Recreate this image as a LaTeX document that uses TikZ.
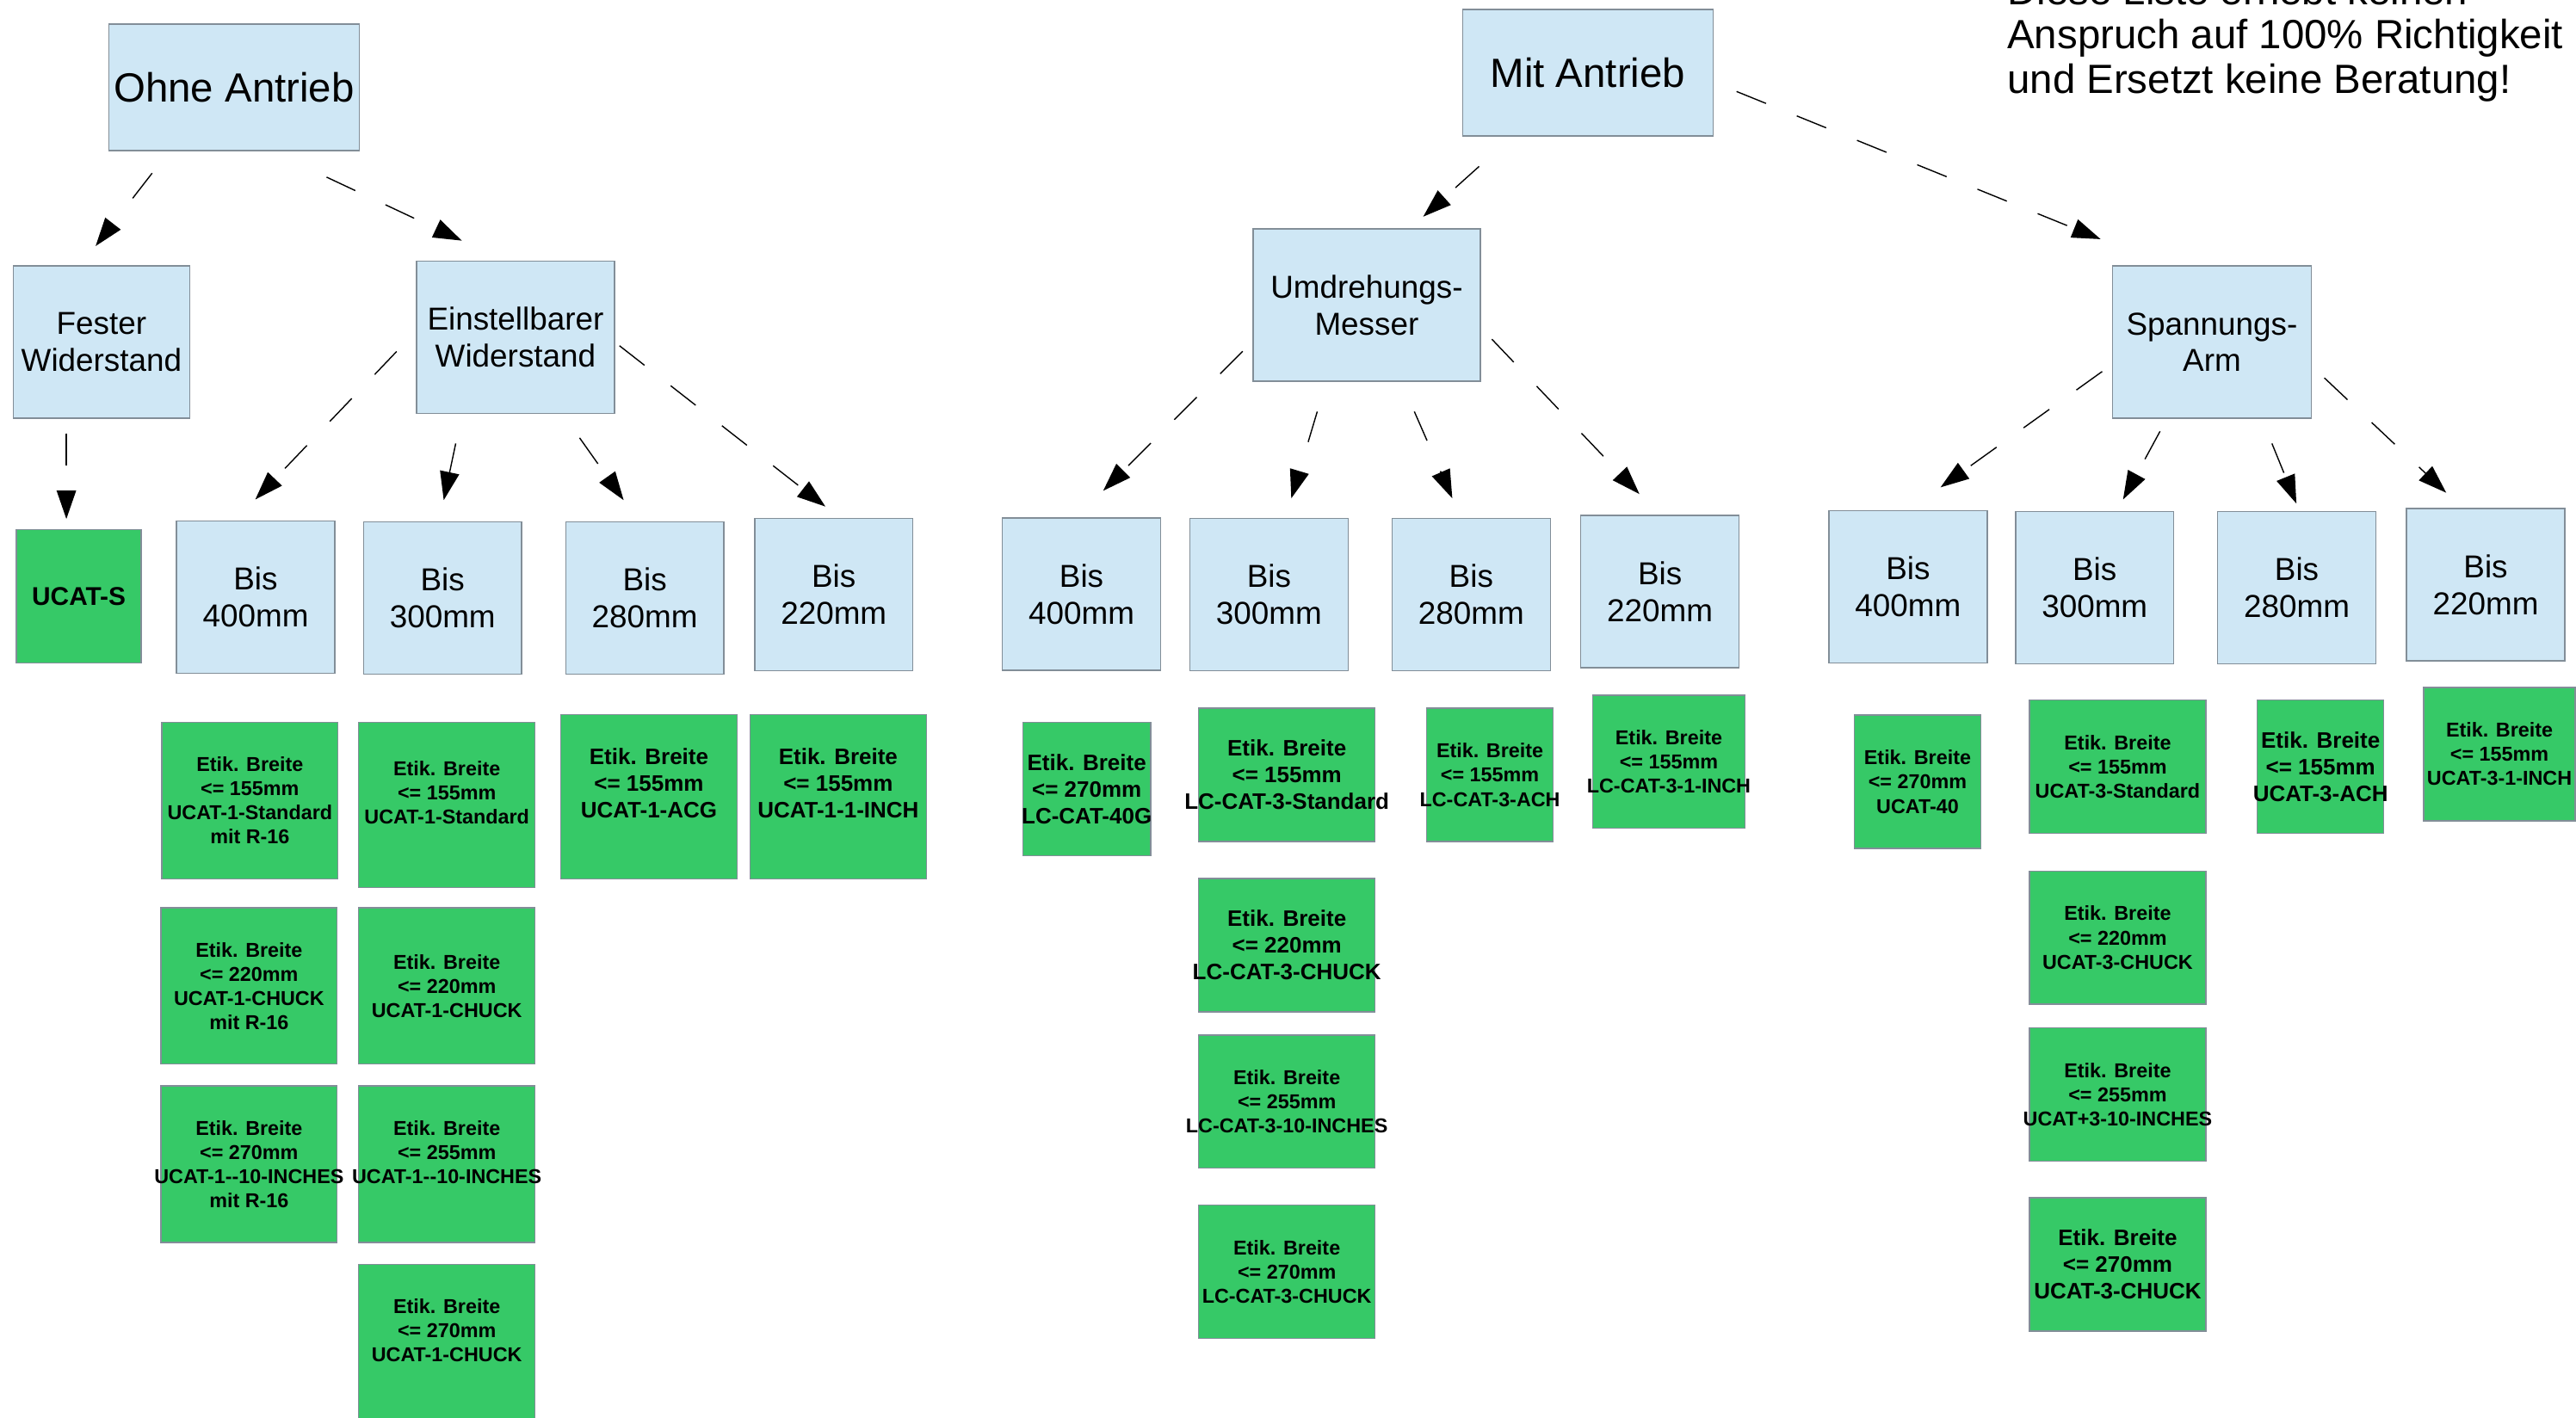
\documentclass[tikz,border=0pt]{standalone}
\usepackage{fontspec}
\setmainfont{Liberation Sans}
\usetikzlibrary{arrows.meta,calc}

\definecolor{sky}{RGB}{207,231,245}
\definecolor{leaf}{RGB}{54,201,103}
\definecolor{edge}{RGB}{130,142,152}

\tikzset{
  cat/.style={draw=edge, fill=sky, align=center, inner sep=0pt, line width=0.4pt,
    font=\fontsize{10.5}{12.2}\selectfont},
  head/.style={cat, minimum width=2.91cm, minimum height=1.47cm,
    font=\fontsize{13.5}{14.7}\selectfont},
  bis/.style={cat, minimum width=1.84cm, minimum height=1.77cm},
  prod/.style={draw=edge, fill=leaf, align=center, inner xsep=-8pt, inner ysep=0pt,
    line width=0.4pt, minimum height=1.55cm, font=\bfseries\fontsize{6.65}{8}\selectfont},
  prodL/.style={prod, font=\bfseries\fontsize{7.4}{8.8}\selectfont},
  wide/.style={minimum width=2.05cm},
  slim/.style={minimum width=1.47cm},
  link/.style={line width=0.4pt, dash pattern=on 10.5pt off 11pt,
    -{Triangle[length=9.4pt,width=6.4pt]}}
}

\begin{document}
\begin{tikzpicture}[x=0.0191cm, y=-0.0191cm]
    \useasboundingbox (0,0) rectangle (1568,863);
    \clip (0,0) rectangle (1568,863);

    \node[anchor=north west, align=left, inner sep=0pt,
      font=\fontsize{13.5}{14.7}\selectfont] (hinweis) at (1221.5,-15.6)
      {Diese Liste erhebt keinen\\Anspruch auf 100\% Richtigkeit\\und Ersetzt keine Beratung!};

    % ohne Antrieb
    \node[head] (ohne) at (142.5,53.2) {Ohne Antrieb};
    \node[cat, minimum width=2.05cm, minimum height=1.77cm] (fester) at (61.8,208.3) {Fester\\Widerstand};
    \node[cat, minimum width=2.30cm, minimum height=1.77cm] (einst) at (313.8,205.3) {Einstellbarer\\Widerstand};
    \node[prod, minimum width=1.45cm, font=\bfseries\fontsize{8.5}{10}\selectfont] (ucats) at (48,363) {UCAT-S};

    \node[bis] (b4o) at (155.6,363.5) {Bis\\400mm};
    \node[bis] (b3o) at (269.4,364) {Bis\\300mm};
    \node[bis] (b28o) at (392.5,364) {Bis\\280mm};
    \node[bis] (b22o) at (507.5,362) {Bis\\220mm};

    \node[prod, wide, minimum height=1.82cm] (o4a) at (152.1,487.4) {Etik. Breite\\<= 155mm\\UCAT-1-Standard\\mit R-16};
    \node[prod, wide, minimum height=1.82cm] (o4b) at (151.6,600.3) {Etik. Breite\\<= 220mm\\UCAT-1-CHUCK\\mit R-16};
    \node[prod, wide, minimum height=1.82cm] (o4c) at (151.6,708.8) {Etik. Breite\\<= 270mm\\UCAT-1-\kern0pt-10-INCHES\\mit R-16};
    \node[prod, wide, minimum height=1.92cm] (o3a) at (272,490) {Etik. Breite\\<= 155mm\\UCAT-1-Standard\\\mbox{}};
    \node[prod, wide, minimum height=1.82cm] (o3b) at (272,600.3) {Etik. Breite\\<= 220mm\\UCAT-1-CHUCK};
    \node[prod, wide, minimum height=1.82cm] (o3c) at (272,708.8) {Etik. Breite\\<= 255mm\\UCAT-1-\kern0pt-10-INCHES\\\mbox{}};
    \node[prod, wide, minimum height=1.82cm] (o3d) at (272,817.5) {Etik. Breite\\<= 270mm\\UCAT-1-CHUCK\\\mbox{}};
    \node[prodL, wide, minimum height=1.91cm] (o28) at (395,485) {Etik. Breite\\<= 155mm\\UCAT-1-ACG\\\mbox{}};
    \node[prodL, wide, minimum height=1.91cm] (o22) at (510.2,485) {Etik. Breite\\<= 155mm\\UCAT-1-1-INCH\\\mbox{}};

    % mit Antrieb
    \node[head] (mit) at (966.5,44.3) {Mit Antrieb};
    \node[cat, minimum width=2.64cm, minimum height=1.77cm] (umd) at (831.9,185.7) {Umdrehungs-\\Messer};
    \node[cat, minimum width=2.31cm, minimum height=1.77cm] (span) at (1346.4,208.3) {Spannungs-\\Arm};

    \node[bis] (b4m) at (658.3,361.7) {Bis\\400mm};
    \node[bis] (b3m) at (772.4,362) {Bis\\300mm};
    \node[bis] (b28m) at (895.5,362) {Bis\\280mm};
    \node[bis] (b22m) at (1010.4,360.2) {Bis\\220mm};

    \node[bis] (b4s) at (1161.4,357.3) {Bis\\400mm};
    \node[bis] (b3s) at (1275,357.8) {Bis\\300mm};
    \node[bis] (b28s) at (1398,357.8) {Bis\\280mm};
    \node[bis] (b22s) at (1513,356) {Bis\\220mm};

    \node[prodL, minimum width=1.49cm] (m4) at (661.5,480.5) {Etik. Breite\\<= 270mm\\LC-CAT-40G};
    \node[prodL, wide] (m3a) at (783.3,471.8) {Etik. Breite\\<= 155mm\\LC-CAT-3-Standard};
    \node[prodL, wide] (m3b) at (783.3,575.5) {Etik. Breite\\<= 220mm\\LC-CAT-3-CHUCK};
    \node[prod, wide] (m3c) at (783.3,670.7) {Etik. Breite\\<= 255mm\\LC-CAT-3-10-INCHES};
    \node[prod, wide] (m3d) at (783.3,774.4) {Etik. Breite\\<= 270mm\\LC-CAT-3-CHUCK};
    \node[prod, slim] (m28) at (906.9,471.8) {Etik. Breite\\<= 155mm\\LC-CAT-3-ACH};
    \node[prod, minimum width=1.77cm] (m22) at (1015.8,463.8) {Etik. Breite\\<= 155mm\\LC-CAT-3-1-INCH};

    \node[prod, slim] (s4) at (1167.2,476) {Etik. Breite\\<= 270mm\\UCAT-40};
    \node[prod, wide] (s3a) at (1289,466.9) {Etik. Breite\\<= 155mm\\UCAT-3-Standard};
    \node[prod, wide] (s3b) at (1289,570.9) {Etik. Breite\\<= 220mm\\UCAT-3-CHUCK};
    \node[prod, wide] (s3c) at (1289,666.5) {Etik. Breite\\<= 255mm\\UCAT+3-10-INCHES};
    \node[prodL, wide] (s3d) at (1289,769.9) {Etik. Breite\\<= 270mm\\UCAT-3-CHUCK};
    \node[prodL, slim] (s28) at (1412.5,466.9) {Etik. Breite\\<= 155mm\\UCAT-3-ACH};
    \node[prod, minimum width=1.76cm] (s22) at (1521.4,459.2) {Etik. Breite\\<= 155mm\\UCAT-3-1-INCH};

    % connectors
    \draw[link] ($(ohne.south)+(-49.9,13.4)$) -- ($(fester.north)+(-3.6,-11.8)$);
    \draw[link] ($(ohne.south)+(56.3,15.8)$) -- ($(einst.north)+(-32.7,-12.1)$);
    \draw[link] ($(fester.south)+(-21.4,8.9)$) -- ($(ucats.north)+(-7.6,-6.1)$);
    \draw[link] ($(einst.west)+(-11.8,8.7)$) -- ($(b4o.north)+(-0.2,-12.7)$);
    \draw[link] ($(einst.south)+(-36.4,18)$) -- ($(b3o.north)+(0.7,-12.8)$);
    \draw[link] ($(einst.south)+(39,14.6)$) -- ($(b28o.north)+(-12.9,-12.8)$);
    \draw[link] ($(einst.east)+(2.7,5.2)$) -- ($(b22o.north)+(-5.1,-6.9)$);

    \draw[link] ($(mit.south)+(-66.2,18.2)$) -- ($(umd.north)+(34.4,-7.1)$);
    \draw[link] ($(mit.east)+(14,11.4)$) -- ($(span.north)+(-67.8,-16)$);
    \draw[link] ($(umd.west)+(-6,28.2)$) -- ($(b4m.north)+(13.2,-16.2)$);
    \draw[link] ($(umd.south)+(-30.1,18.2)$) -- ($(b3m.north)+(13.6,-11.9)$);
    \draw[link] ($(umd.south)+(29,18.2)$) -- ($(b28m.north)+(-11.5,-11.9)$);
    \draw[link] ($(umd.east)+(6.7,20.8)$) -- ($(b22m.north)+(-12.5,-12.7)$);
    \draw[link] ($(span.west)+(-6,17.9)$) -- ($(b4s.north)+(19.8,-13.9)$);
    \draw[link] ($(span.south)+(-31.6,7.6)$) -- ($(b3s.north)+(17.3,-7)$);
    \draw[link] ($(span.south)+(36.5,15)$) -- ($(b28s.north)+(-0.2,-4.5)$);
    \draw[link] ($(span.east)+(7.6,21.8)$) -- ($(b22s.north)+(-24,-9.3)$);
\end{tikzpicture}
\end{document}
